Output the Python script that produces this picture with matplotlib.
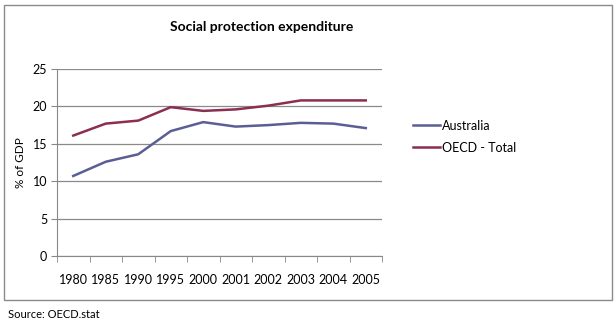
import numpy as np
import matplotlib.pyplot as plt
from matplotlib.patches import Rectangle

years = ['1980', '1985', '1990', '1995', '2000', '2001', '2002', '2003', '2004', '2005']
australia = [10.7, 12.6, 13.6, 16.7, 17.9, 17.3, 17.5, 17.8, 17.7, 17.1]
oecd = [16.1, 17.7, 18.1, 19.9, 19.4, 19.6, 20.1, 20.8, 20.8, 20.8]

plt.rcParams['font.family'] = ['Lato', 'DejaVu Sans']

fig = plt.figure(figsize=(6.15, 3.23), dpi=100)
fig.patches.append(Rectangle((4/615, 23/323), 608/615, 295/323, transform=fig.transFigure,
                             fill=False, edgecolor='#8a8a8a', linewidth=1))
ax = fig.add_axes([57/615, 67/323, 325/615, 187/323])

x = np.arange(len(years))
ax.plot(x, australia, color='#5b5e95', linewidth=1.8, label='Australia')
ax.plot(x, oecd, color='#8c2d52', linewidth=1.8, label='OECD - Total')

ax.set_xlim(-0.5, len(years) - 0.5)
ax.set_ylim(0, 25)
ax.set_yticks(range(0, 26, 5))
ax.set_xticks(x)
ax.set_xticklabels(years)
ax.set_xticks(np.arange(-0.5, len(years)), minor=True)
ax.tick_params(axis='x', which='major', length=0, pad=13, labelsize=9)
ax.tick_params(axis='x', which='minor', length=4, color='#888888')
ax.tick_params(axis='y', length=4, color='#888888', labelsize=9, pad=3)
ax.yaxis.grid(True, color='#8a8a8a', linewidth=0.9)
ax.set_axisbelow(True)
for s in ['top', 'right']:
    ax.spines[s].set_visible(False)
for s in ['left', 'bottom']:
    ax.spines[s].set_color('#888888')

ax.set_ylabel('% of GDP', fontsize=8.5, labelpad=5)
fig.text(262/615, 1 - 27/323, 'Social protection expenditure', ha='center', va='center',
         fontsize=10, fontweight='bold')
ax.legend(loc='upper left', bbox_to_anchor=(1.06, 0.79), frameon=False, fontsize=9,
          handlelength=2.2, handletextpad=0.1, labelspacing=0.8)
fig.text(8/615, 1 - 315/323, 'Source: OECD.stat', ha='left', va='center', fontsize=8)

fig.savefig('out.png', dpi=100)
